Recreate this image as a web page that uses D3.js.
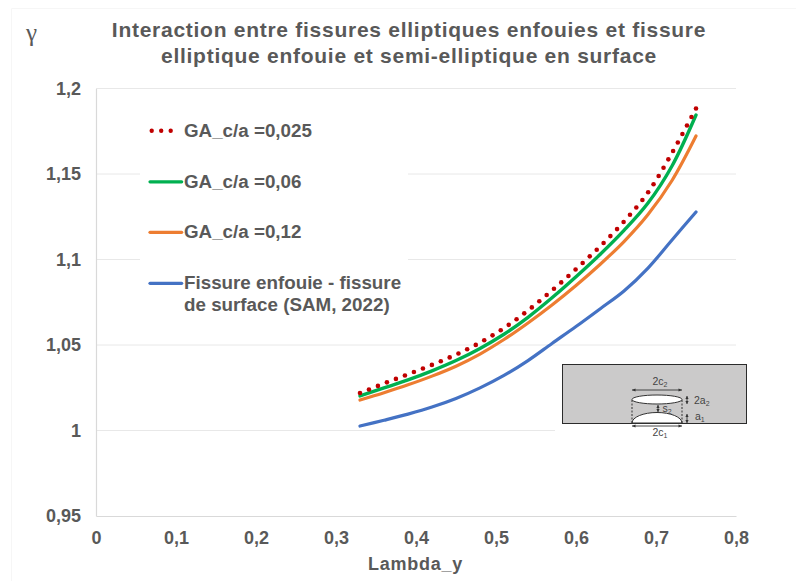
<!DOCTYPE html>
<html><head><meta charset="utf-8">
<script src="https://cdn.jsdelivr.net/npm/d3@7"></script>
<style>html,body{margin:0;padding:0;background:#fff}svg{display:block}text{font-family:"Liberation Sans",Arial,sans-serif}</style>
</head><body><svg id="c" width="796" height="581"></svg>
<script>
const lambdaY=[0.33,0.36,0.39,0.42,0.45,0.48,0.51,0.54,0.57,0.60,0.63,0.66,0.69,0.72,0.75];
const ga025=[1.0219,1.0275,1.0329,1.0384,1.0444,1.0514,1.0599,1.0702,1.0819,1.0944,1.1076,1.1222,1.1392,1.1623,1.1883];
const ga06=[1.0202,1.0249,1.0296,1.0349,1.0409,1.0480,1.0563,1.0662,1.0776,1.0899,1.1029,1.1170,1.1330,1.1547,1.1845];
const ga12=[1.0178,1.0221,1.0267,1.0318,1.0376,1.0447,1.0532,1.0629,1.0734,1.0848,1.0971,1.1105,1.1263,1.1462,1.1722];
const sam=[1.0026,1.0060,1.0096,1.0137,1.0187,1.0249,1.0322,1.0409,1.0509,1.0608,1.0711,1.0816,1.0950,1.1114,1.1278];
const xTicks=[0,0.1,0.2,0.3,0.4,0.5,0.6,0.7,0.8];
const yTicks=[0.95,1,1.05,1.1,1.15,1.2];
const titleLines=["Interaction entre fissures elliptiques enfouies et fissure","elliptique enfouie et semi-elliptique en surface"];
const fr=v=>String(+v.toFixed(2)).replace(".",",");
const svg=d3.select("#c");
const x=d3.scaleLinear().domain([0,0.8]).range([96,736]);
const y=d3.scaleLinear().domain([0.95,1.2]).range([516,88.5]);
const ink="#595959";

// faint picture frame
svg.append("path").attr("d","M11.5,581V8.5H796").attr("fill","none").attr("stroke","#f6f6f6");

// gridlines
svg.append("g").selectAll("line").data(yTicks.slice(1)).join("line")
 .attr("x1",x(0)).attr("x2",x(0.8)).attr("y1",d=>y(d)).attr("y2",d=>y(d))
 .attr("stroke","#e8e8e8").attr("stroke-width",1);
// axes
const gx=svg.append("g").attr("transform",`translate(0,${y(0.95)})`)
 .call(d3.axisBottom(x).tickValues(xTicks).tickFormat(fr).tickSize(0).tickPadding(15));
const gy=svg.append("g").attr("transform",`translate(${x(0)},0)`)
 .call(d3.axisLeft(y).tickValues(yTicks).tickFormat(fr).tickSize(0).tickPadding(15));
[gx,gy].forEach(g=>{g.select(".domain").attr("stroke","#d9d9d9").attr("stroke-width",1.2);
 g.selectAll("text").attr("fill",ink).attr("font-size",18).attr("font-weight","bold").style("font-family",'"Liberation Sans",Arial,sans-serif');});

// white masks behind legend and inset
svg.append("rect").attr("x",140).attr("y",110).attr("width",268).attr("height",222).attr("fill","#fff");
svg.append("rect").attr("x",555).attr("y",358).attr("width",200).attr("height",84).attr("fill","#fff");

// series
const line=d3.line().x((d,i)=>x(lambdaY[i])).y(d=>y(d)).curve(d3.curveCatmullRom.alpha(0.5));
const series=[[sam,"#4472c4",3.2],[ga12,"#ed7d31",3.2],[ga06,"#00b050",3.4]];
svg.append("g").selectAll("path").data(series).join("path")
 .attr("d",d=>line(d[0])).attr("fill","none").attr("stroke",d=>d[1]).attr("stroke-width",d=>d[2])
 .attr("stroke-linecap","round");
// dotted series: round dots evenly spaced along its curve, last dot on the last value
const dotted=svg.append("path").attr("d",line(ga025)).attr("fill","none").attr("stroke","none");
const dottedLen=dotted.node().getTotalLength();
const dotCount=Math.round(dottedLen/9.7);
svg.append("g").selectAll("circle").data(d3.range(dotCount+1)).join("circle")
 .attr("cx",k=>dotted.node().getPointAtLength(k*dottedLen/dotCount).x)
 .attr("cy",k=>dotted.node().getPointAtLength(k*dottedLen/dotCount).y)
 .attr("r",2.3).attr("fill","#c00000");

// legend
const legend=svg.append("g");
const legendRows=[[130.8,"#c00000",["GA_c/a =0,025"],4.4,"0 9.5",151.7,171.5],[181.8,"#00b050",["GA_c/a =0,06"],3.2,null,150,181.7],[232.3,"#ed7d31",["GA_c/a =0,12"],3.2,null,150,181.7],[283.3,"#4472c4",["Fissure enfouie - fissure","de surface (SAM, 2022)"],3.2,null,150,181.7]];
legendRows.forEach(r=>{
 legend.append("line").attr("x1",r[5]).attr("x2",r[6]).attr("y1",r[0]).attr("y2",r[0])
  .attr("stroke",r[1]).attr("stroke-width",r[3]).attr("stroke-linecap","round").attr("stroke-dasharray",r[4]);
 r[2].forEach((t,i)=>legend.append("text").attr("x",184).attr("y",r[0]+6+i*21.7).attr("font-size",18.8).attr("font-weight","bold").attr("fill",ink).text(t));
});

// title etc.
svg.append("g").selectAll("text").data(titleLines).join("text")
 .attr("x",409).attr("y",(d,i)=>37+i*25.6).attr("text-anchor","middle").attr("font-size",21).attr("letter-spacing",0.73).attr("font-weight","bold").attr("fill",ink).text(d=>d);
svg.append("text").attr("x",415.5).attr("y",570).attr("text-anchor","middle").attr("font-size",18).attr("font-weight","bold").attr("letter-spacing",0.75).attr("fill",ink).text("Lambda_y");
svg.append("text").attr("x",26).attr("y",41).attr("font-size",25).attr("fill","#595959").style("font-family",'"Liberation Serif",serif').text("γ");

// inset schematic
const ins=svg.append("g");
const ic="#333";
ins.append("rect").attr("x",562.5).attr("y",364.5).attr("width",184).attr("height",59).attr("fill","#cbcaca").attr("stroke","#2b2b2b").attr("stroke-width",1);
ins.append("path").attr("d","M632,423 A25,10.5 0 0 1 682,423 Z").attr("fill","#fff").attr("stroke",ic).attr("stroke-width",1);
ins.append("ellipse").attr("cx",657).attr("cy",399.5).attr("rx",25).attr("ry",4.5).attr("fill","#fff").attr("stroke",ic).attr("stroke-width",1);
ins.selectAll(".v").data([632,682]).join("line").attr("x1",d=>d).attr("x2",d=>d).attr("y1",400).attr("y2",423).attr("stroke",ic).attr("stroke-dasharray","2 1.5");
const arrows=[[632,390,682,390],[632,426,682,426],[687,396,687,404],[687,414,687,423],[658,405,658,412]];
arrows.forEach(a=>{
 const h=a[1]===a[3];
 ins.append("line").attr("x1",a[0]).attr("y1",a[1]).attr("x2",a[2]).attr("y2",a[3]).attr("stroke",ic).attr("stroke-width",0.9);
 [[a[0],a[1],-1],[a[2],a[3],1]].forEach(p=>{
  const pts=h?[[p[0],p[1]],[p[0]-p[2]*3.5,p[1]-1.6],[p[0]-p[2]*3.5,p[1]+1.6]]:[[p[0],p[1]],[p[0]-1.6,p[1]-p[2]*3],[p[0]+1.6,p[1]-p[2]*3]];
  ins.append("polygon").attr("points",pts.join(" ")).attr("fill",ic);
 });
});
const insetLabels=[[652.5,385,"2c","2"],[652.5,436,"2c","1"],[694,404,"2a","2"],[695,420,"a","1"],[662.5,412,"s","2"]];
insetLabels.forEach(l=>{
 const t=ins.append("text").attr("x",l[0]).attr("y",l[1]).attr("font-size",10.5).attr("fill","#444").text(l[2]);
 t.append("tspan").attr("dy",2).attr("font-size",7).text(l[3]);
});
</script></body></html>
